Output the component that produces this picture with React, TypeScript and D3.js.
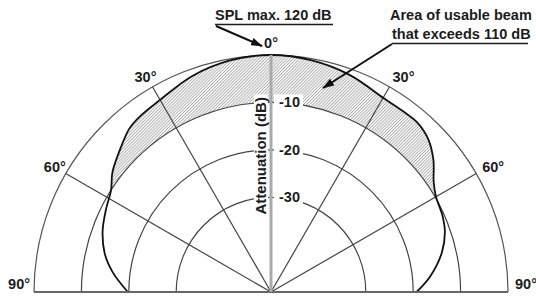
import React, { useEffect } from "react";
import * as d3 from "d3";

// ---- data ----
const ringDb = [0, -10, -20, -30];
const tickDb = [-10, -20, -30];
const tickLabels = ["-10", "-20", "-30"];
const spokeAngles = [-60, -30, 30, 60];
const angleLabelAngles = [-90, -60, -30, 0, 30, 60, 90];
const angleLabels = ["90°", "60°", "30°", "0°", "30°", "60°", "90°"];
const curveAngles = [-90, -83, -77, -70, -63, -57.5, -53, -46, -41, -37, -30, -20, -10, 0, 10, 20, 30, 41, 46, 51, 56, 60, 66, 71, 77, 84.5, 90];
const curveDb = [-19.8, -16.4, -14, -12.2, -11, -10, -8.1, -6.0, -4.4, -3.8, -3.2, -1.5, -0.4, 0, -0.4, -1.3, -2.7, -2.8, -3.8, -5.9, -8.6, -9.8, -10.4, -11.2, -13, -16.3, -19.3];
const usableDb = -10;
const dbMin = -50;
const axisTitle = "Attenuation (dB)";
const note1 = "SPL max. 120 dB";
const note2a = "Area of usable beam";
const note2b = "that exceeds 110 dB";

const W = 536, H = 296;
const cx = 271, cy = 292, R = 237;
const FONT = "'Liberation Sans', Arial, sans-serif";
const TXT = "#1c1c1c";

export default function App() {
  useEffect(() => {
    document.body.style.margin = "0";
  }, []);
  const r = d3.scaleLinear().domain([dbMin, 0]).range([0, R]);
  const rad = (deg: number) => (deg * Math.PI) / 180;
  const pol = (deg: number, rr: number): [number, number] => [
    cx + rr * Math.sin(rad(deg)),
    cy - rr * Math.cos(rad(deg)),
  ];
  const pts: [number, number][] = curveAngles.map((a, i) => [a, curveDb[i]]);
  const line = d3
    .lineRadial<[number, number]>()
    .angle((d) => rad(d[0]))
    .radius((d) => r(d[1]))
    .curve(d3.curveCatmullRom.alpha(0.5));
  const curvePath = line(pts) || "";
  const clipPath = curvePath + "L0,0Z";
  const annulus =
    d3
      .arc()
      .innerRadius(r(usableDb))
      .outerRadius(R + 10)
      .startAngle(-Math.PI / 2)
      .endAngle(Math.PI / 2)({} as any) || "";
  const ringArc = (rr: number) =>
    `M${cx - rr},${cy}A${rr},${rr} 0 0 1 ${cx + rr},${cy}`;

  const labelOffsets: Record<number, [number, number, string]> = {
    [-90]: [4, -7, "end"],
    [-60]: [-4, -1, "middle"],
    [-30]: [-3, -2, "middle"],
    [0]: [0, -3, "middle"],
    [30]: [10, -2, "middle"],
    [60]: [10, -1, "middle"],
    [90]: [-1, -7, "start"],
  };

  return (
    <svg width={W} height={H} style={{ position: "absolute", left: 0, top: 0, background: "#fff" }} fontFamily={FONT}>
      <defs>
        <pattern id="hatch" patternUnits="userSpaceOnUse" width={2.2} height={2.2} patternTransform="rotate(45)">
          <line x1={0.5} y1={0} x2={0.5} y2={2.2} stroke="#8f8f8f" strokeWidth={0.7} />
        </pattern>
        <clipPath id="curveClip">
          <path d={clipPath} transform={`translate(${cx},${cy})`} />
        </clipPath>
        <marker id="arrow" viewBox="0 0 12 8" refX={11} refY={4} markerWidth={12} markerHeight={8} markerUnits="userSpaceOnUse" orient="auto">
          <path d="M0,0L12,4L0,8Z" fill="#111" />
        </marker>
      </defs>

      {/* hatched usable area */}
      <g clipPath="url(#curveClip)">
        <path d={annulus} transform={`translate(${cx},${cy})`} fill="url(#hatch)" />
      </g>

      {/* rings */}
      {ringDb.map((db) => (
        <path key={db} d={ringArc(r(db))} fill="none" stroke={db === 0 ? "#555" : "#444"} strokeWidth={1.2} />
      ))}

      {/* spokes */}
      {spokeAngles.map((a) => {
        const [x2, y2] = pol(a, R);
        return <line key={a} x1={cx} y1={cy} x2={x2} y2={y2} stroke="#444" strokeWidth={1.2} />;
      })}

      {/* response curve */}
      <path d={curvePath} transform={`translate(${cx},${cy})`} fill="none" stroke="#111" strokeWidth={1.8} />

      {/* baseline */}
      <line x1={cx - R} y1={cy} x2={cx + R} y2={cy} stroke="#666" strokeWidth={2} />

      {/* attenuation axis */}
      <line x1={cx} y1={cy} x2={cx} y2={cy - R} stroke="#aaa" strokeWidth={3} />

      {/* axis title */}
      <rect x={254} y={cy - r(-10) - 8} width={14} height={r(-10) - r(-30) + 20} fill="#fff" />
      <text
        transform={`translate(${cx - 5},${(cy - r(-10) + cy - r(-30)) / 2 + 6}) rotate(-90)`}
        textAnchor="middle"
        fontSize={15}
        fontWeight="bold"
        fill={TXT}
      >
        {axisTitle}
      </text>

      {/* tick labels */}
      {tickDb.map((db, i) => {
        const y = cy - r(db);
        return (
          <g key={db}>
            <rect x={cx + 3} y={y - 8} width={29} height={16} fill="#fff" />
            <text x={cx + 8} y={y + 5} fontSize={14.5} fontWeight="bold" fill={TXT}>
              {tickLabels[i]}
            </text>
          </g>
        );
      })}

      {/* angle labels */}
      {angleLabelAngles.map((a, i) => {
        const [x, y] = pol(a, R + 8);
        const [dx, dy, anchor] = labelOffsets[a];
        return (
          <text key={i} x={x + dx} y={y + dy} textAnchor={anchor as any} dominantBaseline="middle" fontSize={14.5} fontWeight="bold" fill={TXT}>
            {angleLabels[i]}
          </text>
        );
      })}

      {/* annotations */}
      <text x={215} y={20} fontSize={14.5} fontWeight="bold" fill={TXT}>{note1}</text>
      <line x1={215} y1={24.5} x2={333} y2={24.5} stroke={TXT} strokeWidth={1.3} />
      <line x1={216} y1={26} x2={262} y2={46} stroke="#111" strokeWidth={2} markerEnd="url(#arrow)" />

      <text x={390} y={20} fontSize={14.5} fontWeight="bold" fill={TXT}>{note2a}</text>
      <text x={392} y={39} fontSize={14.5} fontWeight="bold" fill={TXT}>{note2b}</text>
      <line x1={392} y1={43.5} x2={528} y2={43.5} stroke={TXT} strokeWidth={1.3} />
      <line x1={392} y1={44} x2={323} y2={88} stroke="#111" strokeWidth={2} markerEnd="url(#arrow)" />
    </svg>
  );
}
